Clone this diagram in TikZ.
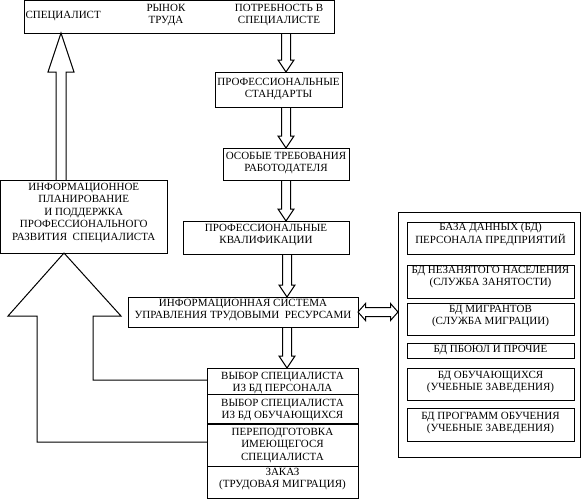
\documentclass[tikz,border=0pt]{standalone}
\usepackage{fontspec}
\setmainfont{Liberation Serif}
\usetikzlibrary{calc}
\newcommand\rsfont{\fontsize{11}{12.5}\selectfont}
\tikzset{
  boxst/.style={draw, line width=1pt, inner sep=0pt, outer sep=0pt},
  txt/.style={inner sep=0pt, outer sep=0pt, align=center, font=\rsfont},
  hol/.style={draw, line width=1pt, line join=miter}
}
% name, left, top, right, bottom, text offset, text
\newcommand\rsbox[7]{%
  \node[boxst, minimum width={(#4-#2)*1pt}, minimum height={(#5-#3)*1pt}] (#1) at ({(#2+#4)/2},{(#3+#5)/2}) {};
  \node[txt, anchor=north] (#1t) at ([yshift={-#6pt}]#1.north) {#7};
}
% x, from node, to node
\newcommand\rsvarrow[3]{%
  \draw[hol] let \p1=(#2.south), \p2=(#3.north) in
   ({#1pt-4.5pt},\y1) -- ({#1pt-4.5pt},{\y2+12pt}) -- ({#1pt-8pt},{\y2+12pt}) -- (#1pt,\y2)
   -- ({#1pt+8pt},{\y2+12pt}) -- ({#1pt+4.5pt},{\y2+12pt}) -- ({#1pt+4.5pt},\y1);
}
\begin{document}
\begin{tikzpicture}[x=1pt,y=-1pt]
\useasboundingbox (0,0) rectangle (583,501);

% top box
\node[boxst, minimum width=310pt, minimum height=32.5pt] (top) at (179,16.75) {};
\node[txt, anchor=west] (spec) at (25.5,16.5) {СПЕЦИАЛИСТ};
\node[txt, anchor=north] (market) at (166,4) {РЫНОК\\ТРУДА};
\node[txt, anchor=north] (need) at (279,4) {ПОТРЕБНОСТЬ В\\СПЕЦИАЛИСТЕ};

% central column
\rsbox{std}{215}{72}{342}{107}{6}{ПРОФЕССИОНАЛЬНЫЕ\\СТАНДАРТЫ}
\rsbox{req}{223}{148}{349}{180}{4}{ОСОБЫЕ ТРЕБОВАНИЯ\\РАБОТОДАТЕЛЯ}
\rsbox{qual}{183}{221}{349}{254}{3}{ПРОФЕССИОНАЛЬНЫЕ\\КВАЛИФИКАЦИИ}
\rsbox{is}{128}{297}{358}{327}{2}{ИНФОРМАЦИОННАЯ СИСТЕМА\\УПРАВЛЕНИЯ ТРУДОВЫМИ\ \ РЕСУРСАМИ}

% left box
\rsbox{left}{0.5}{180}{167}{253}{3}{ИНФОРМАЦИОННОЕ\\ПЛАНИРОВАНИЕ\\И ПОДДЕРЖКА\\ПРОФЕССИОНАЛЬНОГО\\РАЗВИТИЯ\ \ СПЕЦИАЛИСТА}

% bottom stack
\rsbox{sel1}{207}{368}{358}{394}{4}{ВЫБОР СПЕЦИАЛИСТА\\ИЗ БД ПЕРСОНАЛА}
\rsbox{sel2}{207}{394}{358}{424}{5}{ВЫБОР СПЕЦИАЛИСТА\\ИЗ БД ОБУЧАЮЩИХСЯ}
\rsbox{retr}{207}{424}{358}{466}{4}{ПЕРЕПОДГОТОВКА\\ИМЕЮЩЕГОСЯ\\СПЕЦИАЛИСТА}
\rsbox{order}{207}{466}{358}{498}{2}{ЗАКАЗ\\(ТРУДОВАЯ МИГРАЦИЯ)}
\draw[line width=2pt] (sel2.south west) -- (sel2.south east);

% right databases
\node[boxst, minimum width=182pt, minimum height=245pt] (outer) at (489,334.5) {};
\rsbox{db1}{407}{222}{574}{254}{1}{БАЗА ДАННЫХ (БД)\\ПЕРСОНАЛА ПРЕДПРИЯТИЙ}
\rsbox{db2}{407}{265}{574}{298}{1}{БД НЕЗАНЯТОГО НАСЕЛЕНИЯ\\(СЛУЖБА ЗАНЯТОСТИ)}
\rsbox{db3}{407}{303}{574}{335}{2}{БД МИГРАНТОВ\\(СЛУЖБА МИГРАЦИИ)}
\rsbox{db4}{407}{343}{574}{358}{2}{БД ПБОЮЛ И ПРОЧИЕ}
\rsbox{db5}{407}{368}{574}{400}{3}{БД ОБУЧАЮЩИХСЯ\\(УЧЕБНЫЕ ЗАВЕДЕНИЯ)}
\rsbox{db6}{407}{408}{574}{441}{4}{БД ПРОГРАММ ОБУЧЕНИЯ\\(УЧЕБНЫЕ ЗАВЕДЕНИЯ)}

% vertical hollow arrows
\rsvarrow{286}{top}{std}
\rsvarrow{286}{std}{req}
\rsvarrow{286}{req}{qual}
\rsvarrow{287}{qual}{is}
\rsvarrow{287}{is}{sel1}

% double arrow IS <-> databases
\draw[hol] let \p1=(is.east), \p2=(outer.west) in
  (\x1,\y1) -- ({\x1+7.5pt},{\y1+8.5pt}) -- ({\x1+7.5pt},{\y1+4.5pt}) -- ({\x2-7.5pt},{\y1+4.5pt})
  -- ({\x2-7.5pt},{\y1+8.5pt}) -- (\x2,\y1) -- ({\x2-7.5pt},{\y1-8.5pt}) -- ({\x2-7.5pt},{\y1-4.5pt})
  -- ({\x1+7.5pt},{\y1-4.5pt}) -- ({\x1+7.5pt},{\y1-8.5pt}) -- cycle;

% big arrow: left box -> top box
\draw[hol] let \p1=(left.north), \p2=(top.south) in
  (56pt,\y1) -- (56pt,{\y2-39pt}) -- (48pt,{\y2-39pt}) -- (61pt,\y2)
  -- (74pt,{\y2-39pt}) -- (66pt,{\y2-39pt}) -- (66pt,\y1);

% big arrow: bottom stack -> left box
\draw[hol] let \p1=(left.south), \p2=(sel1.west), \p3=(retr.west) in
  (\x3,{\y3+3pt}) -- (37pt,{\y3+3pt}) -- (37pt,{\y1-63pt}) -- (8pt,{\y1-63pt}) -- (64pt,\y1)
  -- (121pt,{\y1-63pt}) -- (93pt,{\y1-63pt}) -- (93pt,{\y2+1pt}) -- (\x2,{\y2+1pt});
\end{tikzpicture}
\end{document}
